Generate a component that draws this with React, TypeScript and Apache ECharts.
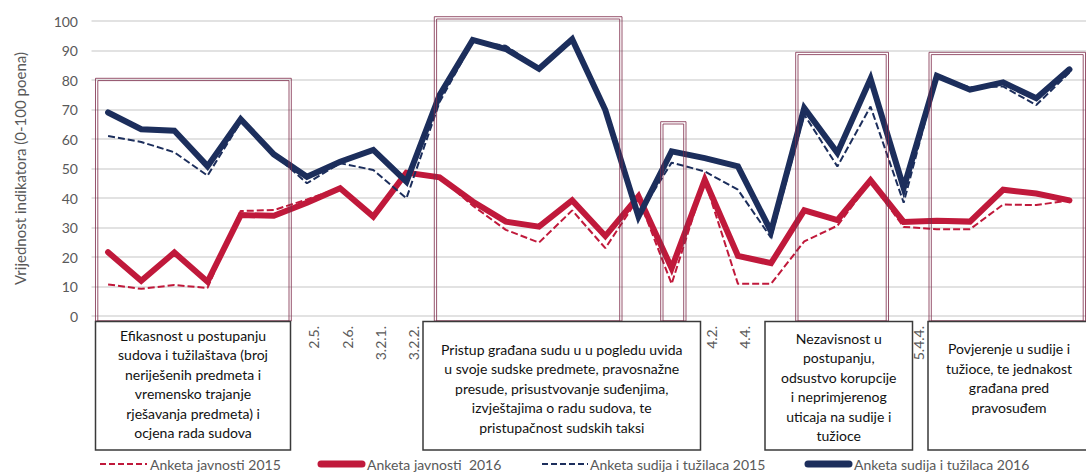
import React, { useEffect, useRef } from "react";
import * as echarts from "echarts";

const categories = [
  "1.1.", "1.2.", "1.3.", "1.4.", "2.3.", "2.4.", "2.5.", "2.6.", "3.2.1.", "3.2.2.",
  "3.3.", "3.4.", "3.5.", "3.6.", "3.7.", "3.8.", "3.9.", "4.1.", "4.2.", "4.4.",
  "4.5.", "5.1.", "5.2.", "5.3.", "5.4.4.", "6.1.", "6.2.", "6.3.", "6.4.", "6.5.",
];
const shownTicks = ["2.5.", "2.6.", "3.2.1.", "3.2.2.", "4.2.", "4.4.", "5.4.4."];
const shiftedTick = "5.4.4.";

const javnost2015 = [10.7, 9.2, 10.5, 9.5, 35.6, 35.9, 39.5, 43.5, 33.7, 48.6, 47, 37.4, 29.2, 24.9, 35.8, 23, 40, 10.9, 46, 10.9, 10.9, 25.3, 30.6, 45.5, 30.2, 29.4, 29.4, 37.8, 37.6, 39.2];
const javnost2016 = [21.6, 11.9, 21.5, 11.6, 34.2, 34, 38.4, 43.3, 33.7, 48.6, 47, 38.8, 32, 30.3, 39.2, 27.1, 40.6, 16.2, 46.2, 20.4, 17.9, 35.8, 32.5, 46, 31.9, 32.3, 32, 42.8, 41.5, 39.2];
const sudije2015 = [61, 59, 55.5, 47.6, 65.8, 55, 45, 51.8, 49.5, 39.9, 72.5, 93, 91.6, 84, 93, 71, 34, 52, 49, 42.8, 26.5, 68.3, 50.7, 71, 38.4, 81, 77.5, 77.8, 71.5, 82.5];
const sudije2016 = [69, 63.3, 62.8, 50.8, 66.7, 54.8, 47.2, 52.3, 56.3, 45.5, 74.9, 93.6, 90.5, 83.8, 93.8, 69.8, 33.7, 55.8, 53.5, 50.7, 28.7, 70.5, 55.3, 80.4, 43.4, 81.4, 76.7, 79.2, 73.8, 83.6];

const seriesNames = ["Anketa javnosti 2015", "Anketa javnosti  2016", "Anketa sudija i tužilaca 2015", "Anketa sudija i tužilaca 2016"];
const yAxisName = "Vrijednost indikatora (0-100 poena)";

const boxTexts = [
  "Efikasnost u postupanju\nsudova i tužilaštava (broj\nneriješenih predmeta i\nvremensko trajanje\nrješavanja predmeta) i\nocjena rada sudova",
  "Pristup građana sudu u u pogledu uvida\nu svoje sudske predmete, pravosnažne\npresude, prisustvovanje suđenjima,\nizvještajima o radu sudova, te\npristupačnost sudskih taksi",
  "Nezavisnost u\npostupanju,\nodsustvo korupcije\ni neprimjerenog\nuticaja na sudije i\ntužioce",
  "Povjerenje u sudije i\ntužioce, te jednakost\ngrađana pred\npravosuđem",
];

const RED = "#c0193b";
const NAVY = "#1c2e5c";
const FONT = "Lato";

function frame(x1: number, y1: number, x2: number, y2: number) {
  return [
    {
      type: "rect",
      z: 100,
      shape: { x: x1, y: y1, width: x2 - x1, height: y2 - y1 },
      style: { fill: null, stroke: "#7d2a4a", lineWidth: 1, opacity: 0.8 },
    },
    {
      type: "rect",
      z: 100,
      shape: { x: x1 + 2.3, y: y1 + 2.3, width: x2 - x1 - 4.6, height: y2 - y1 - 2.3 },
      style: { fill: null, stroke: "#7d2a4a", lineWidth: 1, opacity: 0.8 },
    },
  ];
}

function box(x1: number, x2: number, text: string, cy: number) {
  return [
    {
      type: "rect",
      z: 110,
      shape: { x: x1, y: 321.5, width: x2 - x1, height: 128.5 },
      style: { fill: "#ffffff", stroke: "#3a3a3a", lineWidth: 1.5 },
    },
    {
      type: "text",
      z: 111,
      x: (x1 + x2) / 2,
      y: cy,
      style: {
        text,
        align: "center",
        verticalAlign: "middle",
        fill: "#111111",
        font: `14px ${FONT}`,
        lineHeight: 19.5,
      },
    },
  ];
}

function legendItem(x1: number, x2: number, color: string, dashed: boolean, tx: number, label: string) {
  return [
    {
      type: "line",
      z: 100,
      shape: { x1, y1: 464, x2, y2: 464 },
      style: dashed
        ? { stroke: color, lineWidth: 2, lineDash: [6, 3] }
        : { stroke: color, lineWidth: 7, lineCap: "round" },
    },
    {
      type: "text",
      z: 100,
      x: tx,
      y: 464,
      style: { text: label, align: "left", verticalAlign: "middle", fill: "#595959", font: `14px ${FONT}` },
    },
  ];
}

function lineSeries(name: string, data: number[], color: string, dashed: boolean, z: number) {
  return {
    name,
    type: "line",
    data,
    z,
    symbol: "none",
    showSymbol: false,
    lineStyle: dashed
      ? { color, width: 2, type: [7, 3] }
      : { color, width: 6, join: "miter", cap: "round" },
    itemStyle: { color },
  };
}

export default function App() {
  const ref = useRef<HTMLDivElement>(null);
  useEffect(() => {
    const chart = echarts.init(ref.current as HTMLDivElement, null, { renderer: "svg" });
    const option: any = {
      animation: false,
      backgroundColor: "#ffffff",
      grid: { left: 91.5, top: 21, width: 1007.7, height: 295 },
      xAxis: {
        type: "category",
        data: categories.map((c) =>
          c === shiftedTick
            ? { value: c, textStyle: { verticalAlign: "top", padding: [8, 0, 0, 0] } }
            : { value: c, textStyle: { verticalAlign: "top" } }
        ),
        boundaryGap: true,
        axisLine: { show: false },
        axisTick: { show: false },
        splitLine: { show: false },
        axisLabel: {
          interval: 0,
          rotate: 90,
          margin: 10,
          fontSize: 14,
          color: "#595959",
          fontFamily: FONT,
          hideOverlap: false,
          formatter: (v: string) => (shownTicks.includes(v) ? v : ""),
        },
      },
      yAxis: {
        type: "value",
        min: 0,
        max: 100,
        interval: 10,
        name: yAxisName,
        nameLocation: "middle",
        nameGap: 64,
        nameTextStyle: { fontSize: 15, color: "#595959", fontFamily: FONT },
        axisLine: { show: false },
        axisTick: { show: false },
        axisLabel: { margin: 13.5, fontSize: 14, color: "#595959", fontFamily: FONT },
        splitLine: { lineStyle: { color: "#d9d9d9", width: 1.5 } },
      },
      series: [
        lineSeries(seriesNames[1], javnost2016, RED, false, 2),
        lineSeries(seriesNames[0], javnost2015, RED, true, 3),
        lineSeries(seriesNames[3], sudije2016, NAVY, false, 4),
        lineSeries(seriesNames[2], sudije2015, NAVY, true, 5),
      ],
      graphic: [
        ...frame(95.5, 78.3, 291.3, 321),
        ...frame(434.3, 16.7, 622, 321),
        ...frame(660.7, 121.7, 686, 321),
        ...frame(795.7, 52.3, 888.5, 321),
        ...frame(929, 52.3, 1085.5, 321),
        ...box(95.5, 290.5, boxTexts[0], 384),
        ...box(423, 700.5, boxTexts[1], 388),
        ...box(765, 912.5, boxTexts[2], 387),
        ...box(928, 1090, boxTexts[3], 378),
        ...legendItem(100, 147, RED, true, 150, seriesNames[0]),
        ...legendItem(321, 362, RED, false, 367, seriesNames[1]),
        ...legendItem(542, 588, NAVY, true, 590, seriesNames[2]),
        ...legendItem(808, 849, NAVY, false, 854, seriesNames[3]),
      ],
    };
    chart.setOption(option);
    return () => chart.dispose();
  }, []);
  return (
    <div
      ref={ref}
      style={{ position: "absolute", left: 0, top: 0, width: 1086, height: 474, background: "#fff" }}
    />
  );
}
